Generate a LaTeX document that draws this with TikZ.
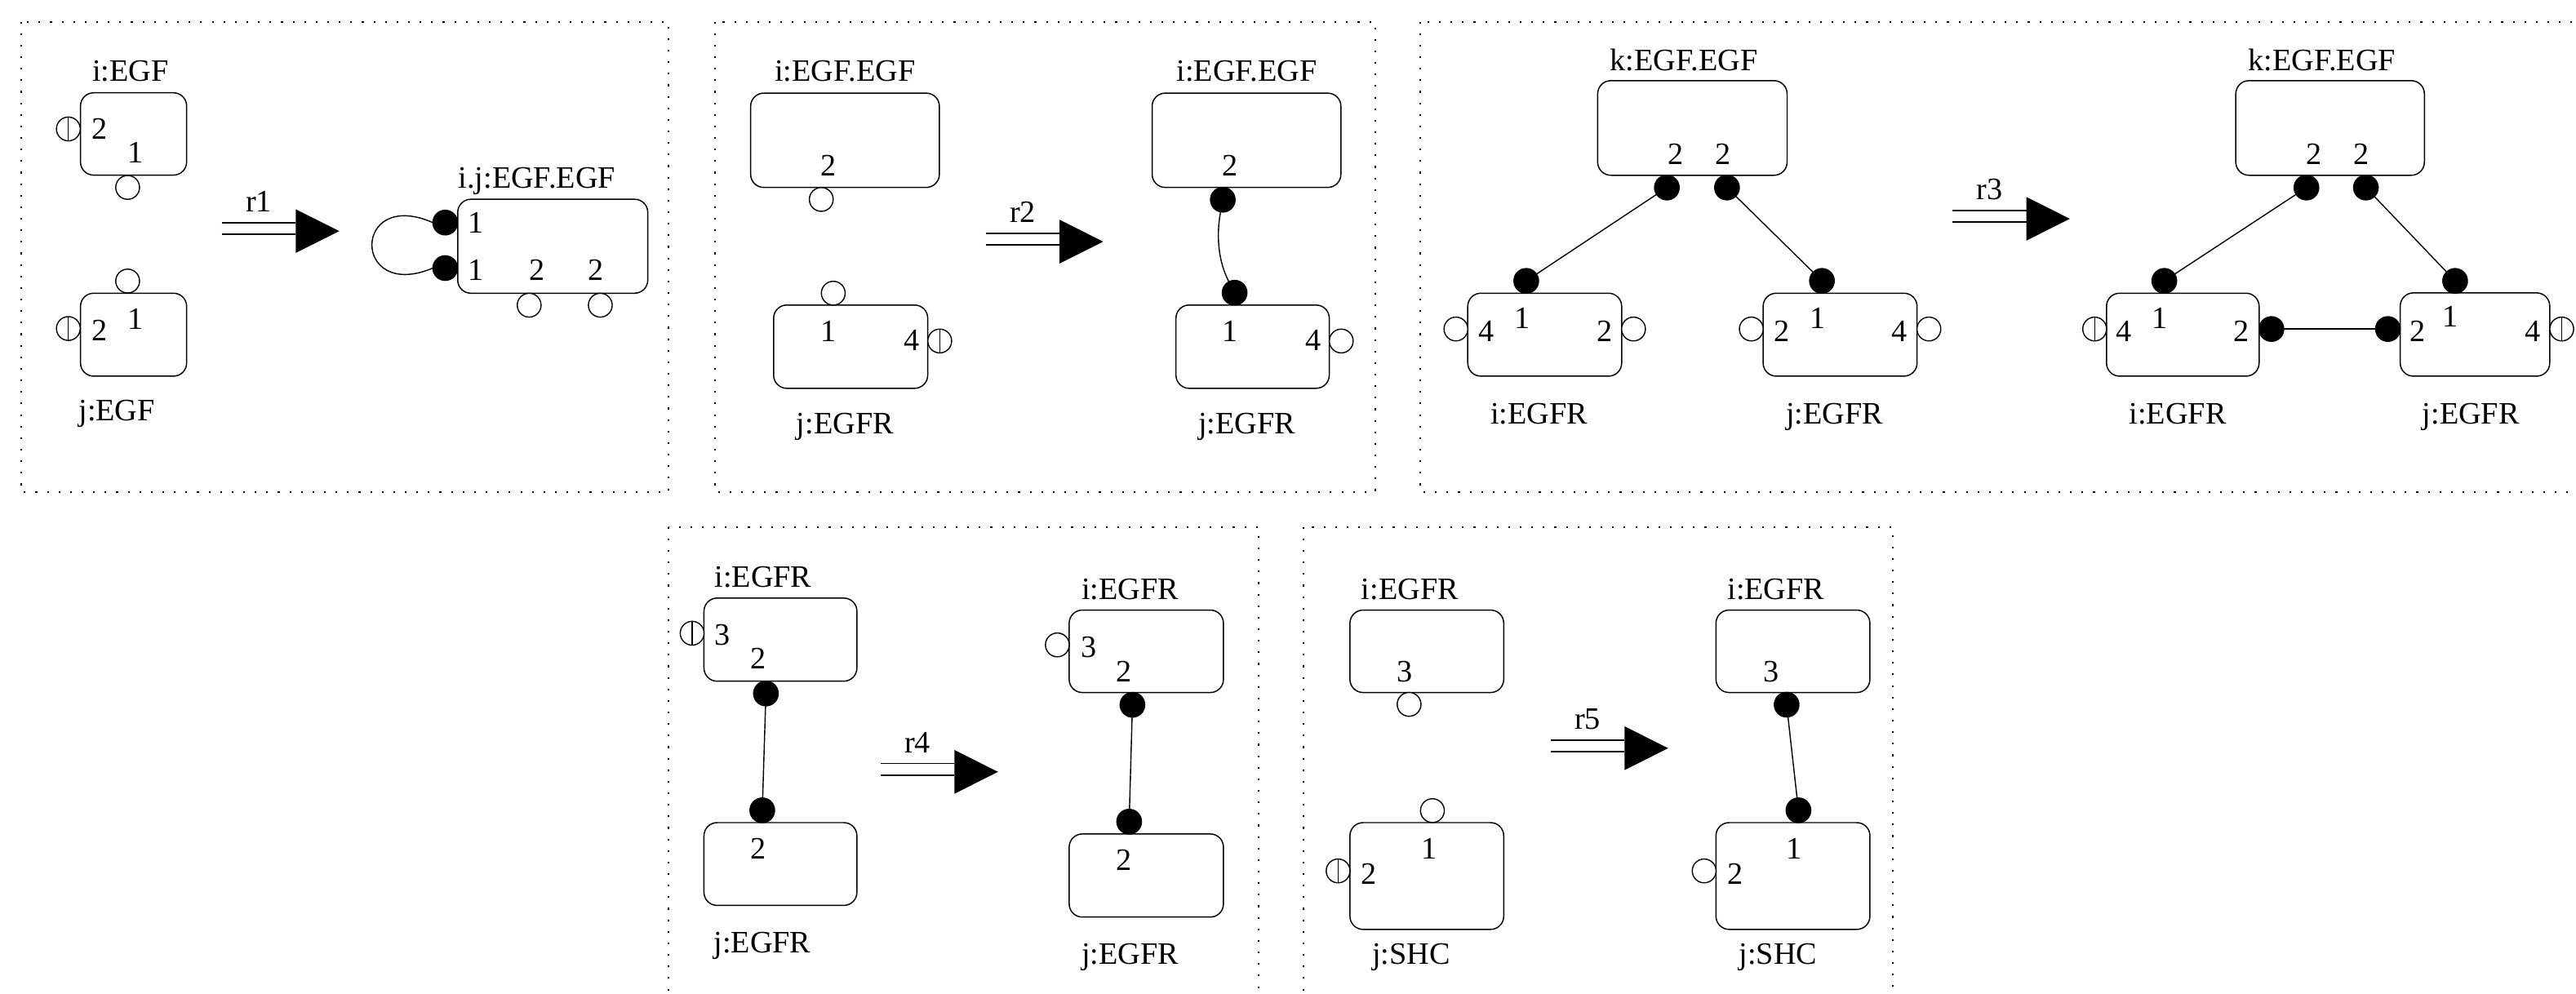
\documentclass[tikz,border=0pt]{standalone}
\usepackage{fontspec}
\setmainfont{Liberation Serif}
\begin{document}
\begin{tikzpicture}[x=0.02cm,y=-0.02cm,
  frame/.style={line width=0.6pt, dash pattern=on 0.6pt off 3.4pt},
  box/.style={draw, line width=0.42pt, rounded corners=0.16cm, inner sep=0pt, outer sep=0pt},
  site/.style={circle, draw, line width=0.4pt, fill=white, minimum size=0.29cm, inner sep=0pt, outer sep=0pt},
  bound/.style={circle, draw, line width=0.4pt, fill=black, minimum size=0.3cm, inner sep=0pt, outer sep=0pt},
  hatch/.style={site, path picture={\draw[line width=0.4pt] (path picture bounding box.north) -- (path picture bounding box.south);}},
  lbl/.style={inner sep=0pt, text height=0.68em, text depth=0pt, font=\fontsize{10.8}{13}\selectfont},
  link/.style={line width=0.4pt},
  dbl/.style={line width=0.42pt}]
\newcommand\molbox[5]{\node[box, minimum width={(#4-#2)*0.02cm}, minimum height={(#5-#3)*0.02cm}] (#1) at ({(#2+#4)/2},{(#3+#5)/2}) {};}
\newcommand\rxn[3]{%
  \draw[dbl] (#1,{#2-3.5}) -- ++(45,0);
  \draw[dbl] (#1,{#2+3.5}) -- ++(45,0);
  \fill ({#1+45},{#2-11.8}) -- ({#1+71.5},{#2+1.5}) -- ({#1+45},{#2+14.8}) -- cycle;
  \node[lbl] at ({#1+22.5},{#2-16}) {#3};}
\path[use as bounding box] (0,0) rectangle (1568,605);
\clip (0,0) rectangle (1568,605);

% ---------- panel 1 ----------
\draw[frame] (12.7,13.2) rectangle (407,299.5);
\molbox{a1}{49}{56.5}{113.6}{106.6}
\node[lbl] (a1t) at (79.5,43.3) {i:EGF};
\node[hatch] (a1s2) at (41.6,78.5) {};
\node[lbl] at (60.7,78.8) {2};
\node[lbl] at (82.3,93.2) {1};
\node[site] (a1s1) at (77.7,114.1) {};
\molbox{a2}{49}{178.5}{113.6}{229}
\node[site] (a2s1) at (77.7,171.1) {};
\node[hatch] (a2s2) at (41.6,200) {};
\node[lbl] at (60.7,201.5) {2};
\node[lbl] at (82.3,194.5) {1};
\node[lbl] (a2t) at (71.1,250) {j:EGF};
\rxn{135}{139.2}{r1}
\molbox{a3}{278.6}{121.3}{394.3}{178.5}
\node[lbl] (a3t) at (326.8,108.7) {i.j:EGF.EGF};
\node[bound] (a3f1) at (271,135.5) {};
\node[bound] (a3f2) at (271,163.2) {};
\draw[link] (a3f1.west) .. controls (214,114) and (214,184) .. (a3f2.west);
\node[lbl] at (289.8,135.8) {1};
\node[lbl] at (289.8,164.5) {1};
\node[lbl] at (326.9,164.5) {2};
\node[lbl] at (362.8,164.5) {2};
\node[site] (a3s1) at (322.1,185.8) {};
\node[site] (a3s2) at (365.4,185.8) {};

% ---------- panel 2 ----------
\draw[frame] (435.2,13.2) rectangle (837,299.5);
\molbox{b1}{456.9}{56.7}{571.8}{114.1}
\node[lbl] (b1t) at (514.4,43.7) {i:EGF.EGF};
\node[lbl] at (504.4,100.9) {2};
\node[site] (b1s) at (499.9,121.4) {};
\molbox{b2}{470.9}{185.7}{564.7}{236.4}
\node[site] (b2s1) at (507.2,178.5) {};
\node[lbl] at (504.4,201.8) {1};
\node[lbl] at (554.9,207.6) {4};
\node[hatch] (b2s4) at (572,207.6) {};
\node[lbl] (b2t) at (514.4,258) {j:EGFR};
\rxn{600}{145.6}{r2}
\molbox{b3}{701.3}{56.7}{816.2}{114.1}
\node[lbl] (b3t) at (758.9,43.7) {i:EGF.EGF};
\node[lbl] at (748.9,100.9) {2};
\node[bound] (b3f) at (744.3,121.6) {};
\molbox{b4}{715.8}{185.7}{809.1}{236.4}
\node[bound] (b4f) at (751.5,178.2) {};
\draw[link] (b3f) .. controls (740,145) and (742,160) .. (b4f);
\node[lbl] at (748.9,201.8) {1};
\node[lbl] at (799.3,207.6) {4};
\node[site] (b4s4) at (816.4,207.6) {};
\node[lbl] (b4t) at (758.9,258) {j:EGFR};

% ---------- panel 3 ----------
\draw[frame] (864.6,13.2) rectangle (1600,299.5);
\molbox{c1}{972.5}{49.1}{1087.8}{106.7}
\node[lbl] (c1t) at (1025,37) {k:EGF.EGF};
\node[lbl] at (1020,94.1) {2};
\node[lbl] at (1048.9,94.1) {2};
\node[bound] (c1f1) at (1014.6,114.2) {};
\node[bound] (c1f2) at (1051.2,114.2) {};
\molbox{c2}{893.4}{178.5}{987.1}{229}
\node[bound] (c2f) at (929,171) {};
\node[site] (c2s4) at (886.2,200.3) {};
\node[site] (c2s2) at (994.3,200.3) {};
\node[lbl] at (904.8,201.8) {4};
\node[lbl] at (926.8,194) {1};
\node[lbl] at (976.6,201.8) {2};
\node[lbl] (c2t) at (936.8,252.3) {i:EGFR};
\molbox{c3}{1073.2}{178.5}{1166.9}{229}
\node[bound] (c3f) at (1109,171) {};
\node[site] (c3s2) at (1066,200.3) {};
\node[site] (c3s4) at (1174.1,200.3) {};
\node[lbl] at (1084.6,201.8) {2};
\node[lbl] at (1106.5,194) {1};
\node[lbl] at (1156.3,201.8) {4};
\node[lbl] (c3t) at (1116.6,252.3) {j:EGFR};
\draw[link] (c1f1) -- (c2f);
\draw[link] (c1f2) -- (c3f);
\rxn{1188.4}{131.7}{r3}
\molbox{c4}{1360.9}{49.1}{1475.7}{106.7}
\node[lbl] (c4t) at (1413.4,37) {k:EGF.EGF};
\node[lbl] at (1408.4,94.1) {2};
\node[lbl] at (1437.3,94.1) {2};
\node[bound] (c4f1) at (1403.9,114.2) {};
\node[bound] (c4f2) at (1440.1,114.2) {};
\molbox{c5}{1282.2}{178.5}{1375.1}{229}
\node[bound] (c5f) at (1317.4,171) {};
\node[hatch] (c5s4) at (1275,200.3) {};
\node[bound] (c5f2) at (1382.6,200.3) {};
\node[lbl] at (1292.7,201.8) {4};
\node[lbl] at (1314.6,194) {1};
\node[lbl] at (1364.5,201.8) {2};
\node[lbl] (c5t) at (1325.6,252.3) {i:EGFR};
\molbox{c6}{1461}{178.3}{1552}{229}
\node[bound] (c6f) at (1494.4,171) {};
\node[bound] (c6f2) at (1453.5,200.3) {};
\node[hatch] (c6s4) at (1559.3,200.3) {};
\node[lbl] at (1471.5,201.8) {2};
\node[lbl] at (1491.3,193) {1};
\node[lbl] at (1541.7,201.8) {4};
\node[lbl] (c6t) at (1504,252.3) {j:EGFR};
\draw[link] (c4f1) -- (c5f);
\draw[link] (c4f2) -- (c6f);
\draw[link] (c5f2) -- (c6f2);

% ---------- panel 4 ----------
\draw[frame] (406.9,320.8) rectangle (766,640);
\molbox{d1}{428.5}{364.1}{521.6}{414.7}
\node[lbl] (d1t) at (464.5,351.4) {i:EGFR};
\node[hatch] (d1s3) at (421.3,385.5) {};
\node[lbl] at (439.7,387) {3};
\node[lbl] at (461.5,401) {2};
\node[bound] (d1f) at (466.2,422.2) {};
\molbox{d2}{428.5}{500.8}{521.6}{551.2}
\node[bound] (d2f) at (464,493.3) {};
\node[lbl] at (461.5,517.1) {2};
\node[lbl] (d2t) at (464,574.2) {j:EGFR};
\draw[link] (d1f) -- (d2f);
\rxn{536}{468.4}{r4}
\molbox{d3}{650.8}{371.4}{744.7}{421.6}
\node[lbl] (d3t) at (688,358.8) {i:EGFR};
\node[site] (d3s3) at (643.6,392.6) {};
\node[lbl] at (662.7,394.4) {3};
\node[lbl] at (684.3,408.9) {2};
\node[bound] (d3f) at (689.3,429.1) {};
\molbox{d4}{650.8}{507.7}{744.7}{558.3}
\node[bound] (d4f) at (687.3,500.2) {};
\node[lbl] at (684.3,524) {2};
\node[lbl] (d4t) at (688,581.1) {j:EGFR};
\draw[link] (d3f) -- (d4f);

% ---------- panel 5 ----------
\draw[frame] (793.6,320.8) rectangle (1152.1,640);
\molbox{e1}{821.7}{371.4}{915.3}{421.6}
\node[lbl] (e1t) at (858.2,358.8) {i:EGFR};
\node[lbl] at (855.2,408.9) {3};
\node[site] (e1s3) at (857.7,428.8) {};
\molbox{e2}{821.7}{500.8}{915.3}{565.8}
\node[site] (e2s1) at (871.9,493.5) {};
\node[lbl] at (869.9,517.1) {1};
\node[hatch] (e2s2) at (814.5,530.2) {};
\node[lbl] at (833.4,532.1) {2};
\node[lbl] (e2t) at (859,581.1) {j:SHC};
\rxn{943.9}{454}{r5}
\molbox{e3}{1044.5}{371.4}{1138.2}{421.6}
\node[lbl] (e3t) at (1081,358.8) {i:EGFR};
\node[lbl] at (1078,408.9) {3};
\node[bound] (e3f) at (1087.5,429) {};
\molbox{e4}{1044.5}{500.8}{1138.2}{565.8}
\node[bound] (e4f) at (1094.7,493.3) {};
\node[lbl] at (1092.2,517.1) {1};
\node[site] (e4s2) at (1037.3,530.2) {};
\node[lbl] at (1056.4,532.1) {2};
\node[lbl] (e4t) at (1082.3,581.1) {j:SHC};
\draw[link] (e3f) -- (e4f);
\end{tikzpicture}
\end{document}
